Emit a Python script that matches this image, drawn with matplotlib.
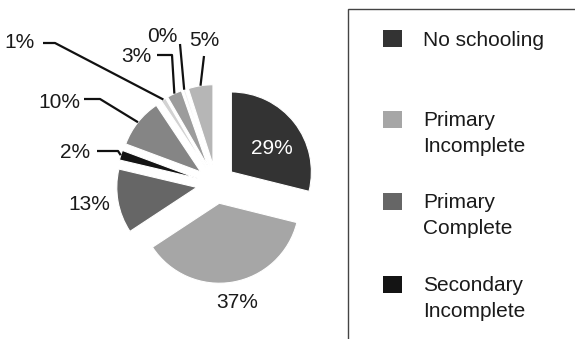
import matplotlib
matplotlib.use('Agg')
import matplotlib.pyplot as plt
from matplotlib.patches import Rectangle
import numpy as np

plt.rcParams['font.family'] = ['Liberation Sans', 'DejaVu Sans']

# ---- data ----
values = [29, 37, 13, 2, 10, 1, 3, 0.4, 5]
pct_labels = ['29%', '37%', '13%', '2%', '10%', '1%', '3%', '0%', '5%']
colors = ['#333333', '#a6a6a6', '#666666', '#141414', '#858585',
          '#d2d2d2', '#9c9c9c', '#ececec', '#b6b6b6']
legend_labels = ['No schooling', 'Primary\nIncomplete', 'Primary\nComplete',
                 'Secondary\nIncomplete']

# ---- layout (image pixel coords, y downward) ----
W, H = 575, 339
def Y(y):
    return H - y

cx, cy, R = 216, 184, 80
EXPL = 19.5  # explosion distance in pixels (data units)
label_pos = [(272, 148), (237, 302), (89, 204), (75, 153), (59, 103),
             (20, 43), (136, 57), (162, 36), (204, 40)]
leaders = {3: [(97, 151), (118, 151)],
           4: [(84, 99), (100, 99)],
           5: [(43, 43), (55, 43)],
           6: [(157, 55), (172, 55)],
           7: [(180, 44)],
           8: [(204, 56)]}
FS = 15
TXT = '#1a1a1a'

fig = plt.figure(figsize=(W / 100, H / 100), dpi=100)
ax = fig.add_axes([0, 0, 1, 1])
wedges, _ = ax.pie(values, colors=colors, startangle=90, counterclock=False,
                   radius=R, center=(cx, Y(cy)), explode=[EXPL] * len(values),
                   wedgeprops=dict(edgecolor='white', linewidth=0.8), frame=True)
ax.set_xlim(0, W)
ax.set_ylim(0, H)
ax.set_aspect('equal', adjustable='box')
ax.axis('off')

for i, (w, lab) in enumerate(zip(wedges, pct_labels)):
    px, py = label_pos[i]
    color = 'white' if i == 0 else TXT
    ax.text(px, Y(py), lab, ha='center', va='center', fontsize=FS, color=color)
    if i in leaders:
        mid = np.deg2rad((w.theta1 + w.theta2) / 2)
        wx, wy = w.center
        ex, ey = wx + w.r * np.cos(mid), wy + w.r * np.sin(mid)
        pts = [(x, Y(y)) for x, y in leaders[i]] + [(ex, ey)]
        xs, ys = zip(*pts)
        ax.plot(xs, ys, color='#111111', lw=1.6, solid_capstyle='butt')

# legend box
ax.add_patch(Rectangle((348, -20), 400, Y(9) + 20, fill=False,
                       edgecolor='#444444', lw=1.0, clip_on=False))
entry_y = [38.5, 119, 201, 284]
for lab, col, ey in zip(legend_labels, colors[:4], entry_y):
    ax.add_patch(Rectangle((383, Y(ey) - 8.5), 19, 17, facecolor=col,
                           edgecolor='none'))
    for k, line in enumerate(lab.split('\n')):
        ax.text(423, Y(ey + 1.5 + 26 * k), line, ha='left', va='center',
                fontsize=FS, color=TXT)

fig.savefig('out.png', dpi=100)
